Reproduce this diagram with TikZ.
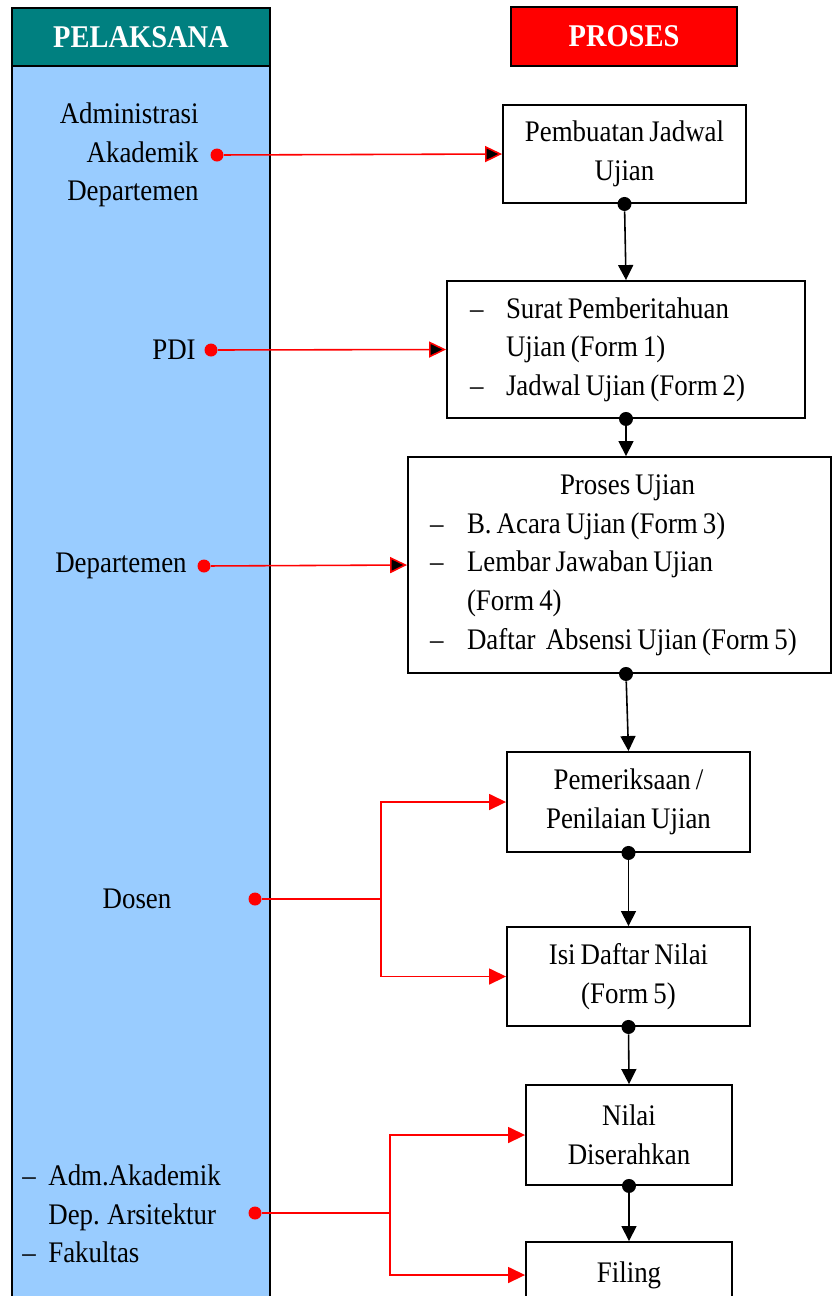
\documentclass[tikz,border=0pt]{standalone}
\usepackage{fontspec}
\setmainfont[FakeStretch=0.9,WordSpace={0.75,0,0}]{Liberation Serif}
\usepackage{tikz}
\usetikzlibrary{arrows.meta}
\definecolor{headteal}{RGB}{0,128,128}
\definecolor{laneblue}{RGB}{153,204,255}
\definecolor{headred}{RGB}{255,0,0}
\newcommand{\dashto}[1]{\makebox[#1][l]{–}}
\begin{document}
\begin{tikzpicture}[x=0.02cm,y=-0.02cm,
  font=\fontsize{17}{22}\selectfont,
  box/.style={shape=rectangle,draw=black,line width=1.1pt,fill=white,align=flush center,inner sep=0pt},
  head/.style={shape=rectangle,draw=black,line width=1.1pt,text=white,font=\fontsize{18}{20}\selectfont\bfseries,inner sep=0pt},
  lane/.style={inner sep=0pt},
  bdot/.style={shape=circle,fill=black,inner sep=0pt,minimum size=0.28cm},
  rdot/.style={shape=circle,fill=headred,inner sep=0pt,minimum size=0.26cm},
  flow/.style={draw=black,line width=0.9pt,-{Triangle[length=0.3cm,width=0.3cm]}},
  rflow/.style={draw=headred,line width=0.9pt,-{Triangle[length=0.34cm,width=0.32cm]}}]
\useasboundingbox (0,0) rectangle (832,1296);
% lane on the left
\draw[line width=1.1pt,fill=laneblue] (12,66) rectangle (270,1330);
\node[head,fill=headteal,minimum width=5.16cm,minimum height=1.16cm] (pel) at (141,37) {PELAKSANA};
\node[head,fill=headred,minimum width=4.52cm,minimum height=1.18cm] (pro) at (624,36.5) {PROSES};
% who
\node[lane,anchor=east,align=flush right] (admin) at (199,155) {Administrasi\\Akademik\\Departemen};
\node[lane,anchor=east] (pdi) at (196,350) {PDI};
\node[lane,anchor=east] (dept) at (187,566) {Departemen};
\node[lane] (dosen) at (137,899) {Dosen};
\node[lane,anchor=west,align=flush left] (adm) at (22,1214) {\dashto{0.52cm}Adm.Akademik\\\hspace*{0.52cm}Dep. Arsitektur\\\dashto{0.52cm}Fakultas};
% steps
\node[box,minimum width=4.86cm,minimum height=1.96cm] (jadwal) at (624.5,154) {Pembuatan Jadwal\\Ujian};
\node[box,text width=6.24cm,align=flush left,inner xsep=0.46cm,minimum height=2.74cm] (surat) at (626,349.5) {\dashto{0.72cm}Surat Pemberitahuan\\\hspace*{0.72cm}Ujian (Form 1)\\\dashto{0.72cm}Jadwal Ujian (Form 2)};
\node[box,text width=7.58cm,align=flush left,inner xsep=0.44cm,minimum height=4.32cm] (ujian) at (619.5,565) {\hspace*{0.4cm}\makebox[7.1cm][c]{Proses Ujian}\\\dashto{0.74cm}B. Acara Ujian (Form 3)\\\dashto{0.74cm}Lembar Jawaban Ujian\\\hspace*{0.74cm}(Form 4)\\\dashto{0.74cm}Daftar\ \ Absensi Ujian (Form 5)};
\node[box,minimum width=4.86cm,minimum height=2cm] (periksa) at (628.5,802) {Pemeriksaan /\\Penilaian Ujian};
\node[box,minimum width=4.86cm,minimum height=1.98cm] (nilai) at (628.5,976.5) {Isi Daftar Nilai\\(Form 5)};
\node[box,minimum width=4.12cm,minimum height=2cm] (serah) at (629,1135) {Nilai\\Diserahkan};
\node[box,minimum width=4.12cm,minimum height=1.32cm] (filing) at (629,1275) {Filing};
% black flow
\node[bdot] (j1) at (jadwal.south) {};
\node[bdot] (j2) at (surat.south) {};
\node[bdot] (j3) at (ujian.south -| j2) {};
\node[bdot] (j4) at (periksa.south) {};
\node[bdot] (j5) at (nilai.south) {};
\node[bdot] (j6) at (serah.south) {};
\path [flow] (j1) edge (surat.north);
\path [flow] (j2) edge (ujian.north -| j2);
\path [flow] (j3) edge (periksa.north);
\path [flow] (j4) edge (nilai.north);
\path [flow] (j5) edge (serah.north);
\path [flow] (j6) edge (filing.north);
% red links
\node[rdot] (r1) at (217,155) {};
\node[rdot] (r2) at (211,350) {};
\node[rdot] (r3) at (204,566) {};
\node[rdot] (r4) at (255,899) {};
\node[rdot] (r5) at (255,1213) {};
\coordinate (k4) at (381,899);
\coordinate (k5) at (390,1213);
\path [rflow] (r1) edge (jadwal.west);
\path [rflow] (r2) edge (surat.west);
\path [rflow] (r3) edge (ujian.west);
\draw[rflow] (r4) -- (k4) |- (periksa.west);
\draw[rflow] (k4) |- (nilai.west);
\draw[rflow] (r5) -- (k5) |- (serah.west);
\draw[rflow] (k5) |- (filing.west);
\end{tikzpicture}
\end{document}
